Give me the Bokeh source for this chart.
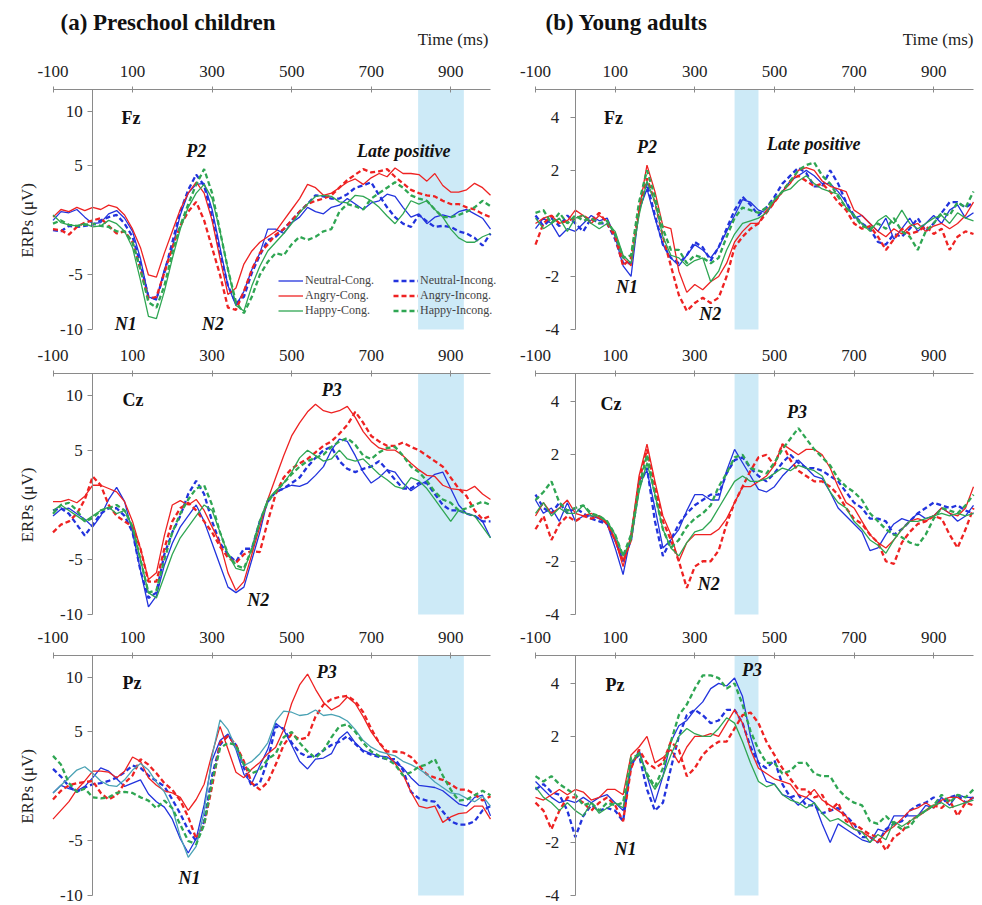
import math
from bokeh.plotting import figure
from bokeh.models import Range1d, LinearAxis, FixedTicker, BoxAnnotation, Label, Legend, LegendItem
from bokeh.layouts import row
from bokeh.embed import file_html
from bokeh.resources import INLINE

# ---------------- data ----------------
time_ms = list(range(-100, 1001, 20))
condition_names = ["Neutral-Cong.", "Neutral-Incong.", "Angry-Cong.", "Angry-Incong.", "Happy-Cong.", "Happy-Incong."]
x_ticks = [-100, 100, 300, 500, 700, 900]
y_ticks_children = [-10, -5, 5, 10]
y_ticks_adults = [-4, -2, 2, 4]
band_children = [818, 933]
band_adults = [400, 460]

# (a) Preschool children, Fz
fz_child_neutral_cong = [0, 0.8, 0.7, 1.0, 0.3, -0.3, -0.2, 0.6, 0.9, 0.2, -1.0, -3.5, -7.0, -7.3, -4.5, -2.5, 0.5, 2.5, 3.3, 3.4, 1.0, -2.5, -6.0, -7.8, -6.5, -4.5, -3.0, -0.8, -0.8, -1.2, -0.2, 0.3, 1.2, 0.8, 0.6, 1.2, 1.4, 2.0, 1.5, 1.0, 1.6, 1.8, 2.4, 2.2, 1.2, 0.3, 0.6, -0.3, 0.3, 0.5, 0.3, 0.8, 1.0, 0.6, 0.2, -0.8]
fz_child_neutral_incong = [-0.9, -1.0, -0.5, -0.6, -0.5, -0.4, 0.0, 0.3, 0.5, -0.3, -1.5, -4.0, -7.0, -7.2, -4.8, -2.0, 0.8, 2.8, 4.2, 3.2, 0.3, -3.0, -6.0, -7.6, -7.0, -4.8, -3.2, -1.8, -1.5, -0.8, 0.0, 0.8, 1.5, 2.3, 2.2, 2.0, 2.0, 2.4, 3.0, 3.2, 3.5, 2.3, 1.2, 0.3, -0.3, -0.6, 0.5, -0.1, -0.6, -0.5, -0.6, -1.0, -1.2, -1.6, -2.3, -1.2]
fz_child_angry_cong = [0.3, 1.0, 0.8, 1.2, 0.9, 1.2, 1.0, 1.4, 1.2, 0.5, -0.8, -2.5, -5.0, -5.2, -3.0, -1.0, 1.0, 2.5, 3.5, 2.5, 0.0, -3.5, -6.8, -6.2, -4.0, -2.8, -2.0, -1.5, -1.0, 0.0, 1.0, 2.0, 3.3, 3.0, 2.3, 2.5, 3.0, 3.5, 3.8, 3.3, 3.9, 4.3, 4.0, 4.8, 4.3, 4.3, 4.2, 3.6, 4.3, 3.2, 2.6, 2.6, 2.8, 3.4, 3.0, 2.3]
fz_child_angry_incong = [-0.8, -0.9, -1.3, -0.6, -0.2, 0.0, 0.2, -0.5, -1.2, -1.0, -2.0, -4.5, -7.2, -7.0, -4.8, -2.5, -0.5, 0.8, 1.7, 0.0, -2.5, -5.0, -8.0, -8.2, -6.5, -4.5, -3.0, -2.2, -1.3, -0.8, 0.0, 0.8, 1.5, 1.8, 2.0, 2.3, 3.0, 3.7, 4.2, 4.7, 4.4, 4.5, 4.7, 4.0, 3.4, 2.8, 2.5, 2.3, 2.2, 1.8, 1.5, 1.5, 1.2, 1.0, 0.6, 0.3]
fz_child_happy_cong = [0.5, -0.2, -0.4, -0.5, -0.3, -0.6, -0.5, 0.0, -0.3, -1.0, -2.5, -5.5, -8.8, -9.0, -6.5, -3.5, -0.8, 1.2, 2.5, 3.3, 2.0, -1.0, -4.5, -7.8, -8.3, -6.0, -4.2, -2.8, -2.0, -1.2, -0.3, 0.7, 1.5, 2.2, 2.3, 2.2, 1.7, 1.6, 2.3, 2.2, 1.8, 1.2, 0.4, -0.3, 0.6, 1.8, 1.5, 1.8, 1.0, 0.3, -0.8, -1.6, -2.0, -2.0, -1.5, -1.2]
fz_child_happy_incong = [-0.3, 0.0, -0.4, -0.5, -0.4, -0.3, -0.5, -0.6, -1.0, -1.0, -2.0, -4.5, -7.5, -8.0, -6.0, -3.0, -0.5, 1.5, 3.3, 4.7, 2.5, -1.0, -4.5, -7.5, -8.5, -7.0, -5.0, -3.8, -3.0, -3.2, -2.2, -1.5, -1.8, -1.5, -1.0, -0.8, 0.8, 1.5, 1.3, 1.0, 2.0, 2.5, 3.0, 3.5, 3.0, 2.3, 2.0, 1.8, 1.0, 0.3, 0.3, 0.5, 0.8, 1.2, 1.8, 1.3]

# (a) Preschool children, Cz
cz_child_neutral_cong = [-1.0, -0.4, -0.3, -0.8, -1.3, -2.0, -1.0, 0.5, 1.6, 0.3, -2.5, -6.0, -9.3, -8.3, -5.5, -3.5, -2.0, -1.0, 0.0, -1.5, -3.5, -5.5, -7.5, -8.0, -7.5, -5.0, -2.5, 0.5, 1.1, 1.5, 1.8, 1.7, 2.0, 2.7, 3.5, 5.0, 6.0, 5.8, 4.5, 3.0, 2.0, 2.5, 3.2, 3.0, 2.0, 1.3, 1.8, 2.2, 2.8, 3.0, 1.5, 0.0, -0.8, -1.0, -1.5, -3.0]
cz_child_neutral_incong = [-0.5, -0.3, -0.8, -1.8, -2.8, -1.8, -0.8, -0.3, -0.3, -1.0, -2.5, -6.0, -8.5, -8.0, -4.5, -2.5, -1.0, 1.0, 2.2, 1.0, -1.5, -3.5, -4.5, -5.2, -4.0, -4.0, -1.5, 0.3, 1.2, 1.5, 2.0, 2.5, 3.5, 4.3, 5.0, 5.3, 4.0, 3.3, 3.0, 3.3, 3.5, 4.0, 3.2, 2.3, 1.5, 1.5, 2.0, 2.0, 1.0, 0.0, -0.5, -0.5, -0.8, -1.0, -1.5, -1.5]
cz_child_angry_cong = [0.3, 0.3, 0.5, 0.2, 0.8, 1.8, 1.8, 1.5, 1.2, 0.3, -1.5, -4.0, -6.8, -6.2, -2.8, 0.0, 0.4, 0.0, 0.5, -0.5, -2.0, -3.5, -6.2, -7.8, -7.0, -4.5, -2.0, 0.5, 2.5, 4.5, 6.3, 7.5, 8.5, 9.2, 8.6, 8.4, 8.6, 9.0, 8.0, 6.7, 5.8, 5.2, 5.0, 5.0, 4.5, 3.8, 3.2, 2.7, 2.6, 1.8, 1.5, 1.4, 1.3, 1.7, 1.0, 0.5]
cz_child_angry_incong = [-2.5, -1.8, -1.5, -0.8, 0.5, 2.6, 1.8, 0.0, -1.0, -1.5, -2.0, -4.0, -7.0, -7.0, -4.0, -1.5, -0.3, 0.2, -0.5, -1.5, -2.5, -3.8, -4.8, -5.3, -4.5, -4.2, -4.3, -1.5, 1.0, 2.5, 3.3, 3.8, 4.2, 4.8, 5.4, 5.8, 6.5, 7.3, 8.5, 7.5, 6.3, 5.8, 5.4, 5.4, 5.7, 5.3, 5.0, 4.5, 4.0, 3.5, 2.5, 1.5, 0.8, -0.5, -1.3, -1.0]
cz_child_happy_cong = [-0.5, 0.0, -0.5, -1.0, -1.5, -1.0, -0.5, -0.2, -0.8, -0.5, -2.0, -5.0, -8.0, -8.5, -6.5, -4.5, -3.0, -2.0, -1.0, 0.0, -0.5, -2.5, -4.5, -5.8, -6.0, -4.0, -1.5, 0.5, 1.3, 2.0, 3.0, 4.3, 5.0, 4.5, 4.0, 4.2, 5.0, 4.2, 4.0, 4.2, 3.5, 2.8, 2.3, 1.7, 1.5, 2.5, 2.2, 1.5, 0.5, -0.5, -1.5, -0.5, -0.8, -1.0, -2.0, -3.0]
cz_child_happy_incong = [-0.8, 0.0, 0.2, -0.5, -1.5, -1.2, -0.5, -0.3, 0.0, -0.5, -2.0, -5.0, -8.0, -7.8, -5.0, -2.5, -0.8, 0.5, 1.5, 1.8, 0.0, -2.5, -4.5, -5.5, -5.8, -4.0, -1.5, 0.3, 1.2, 2.0, 2.8, 3.5, 4.0, 4.3, 4.6, 5.3, 5.8, 6.1, 5.5, 4.5, 4.2, 4.8, 5.2, 5.3, 4.5, 3.5, 3.0, 2.2, 1.2, 0.5, 0.2, -0.5, -0.3, 0.0, 0.3, 0.0]

# (a) Preschool children, Pz
pz_child_neutral_cong = [-0.6, 0.1, -0.2, -0.4, 0.0, 0.8, 1.7, 1.4, 0.7, 0.0, 0.3, 0.6, -0.7, -1.4, -1.9, -3.0, -4.8, -6.1, -4.8, -1.7, 2.4, 4.2, 4.8, 3.4, 1.1, 0.3, 1.9, 3.4, 5.8, 5.2, 3.8, 2.3, 1.6, 2.5, 2.6, 3.0, 4.4, 5.0, 4.0, 3.3, 3.0, 2.8, 2.7, 2.2, 1.7, 0.8, 0.1, 0.0, -0.1, -0.4, -1.0, -1.6, -1.8, -1.0, -0.8, -2.7]
pz_child_neutral_incong = [1.6, 0.9, 0.0, -0.5, -0.1, 0.2, 0.3, 0.5, 0.8, 1.3, 1.9, 1.7, 1.0, 0.5, 0.0, -1.2, -2.5, -4.0, -5.0, -3.2, 1.0, 3.8, 4.7, 3.8, 1.7, 0.0, 0.3, 2.4, 5.5, 5.3, 4.0, 3.1, 2.7, 2.8, 3.3, 3.8, 4.1, 4.6, 3.9, 3.2, 2.9, 2.7, 2.5, 2.5, 1.5, -0.5, -1.1, -1.3, -1.4, -2.3, -3.2, -3.5, -3.5, -3.2, -2.2, -1.8]
pz_child_angry_cong = [-3.0, -2.2, -1.4, -0.3, 0.5, 1.4, 1.4, 1.3, 0.8, 1.4, 2.7, 2.3, 0.8, 0.1, -0.4, -0.6, -1.0, -2.2, -1.2, 0.2, 3.0, 5.5, 3.4, 1.3, 0.8, 1.6, 2.2, 3.0, 3.6, 5.2, 7.6, 9.3, 10.3, 8.9, 7.7, 7.0, 7.4, 8.2, 7.6, 6.4, 5.0, 4.0, 3.0, 2.1, 1.1, -0.5, -1.8, -2.0, -1.8, -3.3, -2.8, -2.5, -2.4, -1.8, -1.8, -3.0]
pz_child_angry_incong = [-1.2, -0.4, 0.1, 0.3, 0.4, 0.5, -0.6, -1.2, -0.8, 0.3, 1.0, 2.5, 2.0, 1.2, 0.3, -0.3, -1.3, -2.8, -4.8, -3.5, 0.0, 4.0, 4.6, 3.8, 2.3, 0.3, -0.3, 0.4, 2.0, 3.8, 4.8, 4.3, 4.5, 6.4, 7.5, 8.0, 8.2, 8.3, 7.8, 6.8, 5.3, 4.0, 3.2, 3.2, 3.1, 2.7, 1.9, 1.1, 0.8, 0.6, 0.2, -0.3, -0.3, -0.7, -1.3, -0.9]
pz_child_happy_cong = [-0.6, 0.1, 0.8, 1.5, 1.8, 1.2, 0.5, 0.1, 0.0, 0.6, 1.5, 2.1, 1.5, 0.4, -0.5, -2.0, -4.6, -6.5, -5.5, -2.3, 2.8, 6.1, 5.2, 3.5, 1.9, 2.3, 3.0, 4.0, 6.0, 6.9, 6.8, 6.5, 6.6, 7.0, 6.5, 6.6, 6.4, 6.0, 5.2, 4.2, 3.6, 3.2, 3.0, 2.8, 2.3, 2.0, 1.6, 1.1, 0.4, -0.1, -0.6, -0.7, -1.1, -1.4, -0.9, -1.8]
pz_child_happy_incong = [2.8, 2.0, 0.3, -0.5, -0.2, -1.0, -1.1, -1.0, -0.6, -0.5, -0.6, -1.0, -1.3, -2.0, -1.3, -2.0, -3.5, -5.0, -5.3, -3.5, 0.5, 3.5, 4.0, 3.8, 2.0, 1.2, 1.5, 2.5, 3.0, 4.5, 5.0, 4.0, 3.2, 2.6, 3.3, 4.5, 5.5, 5.7, 5.0, 4.0, 3.2, 2.8, 2.5, 2.0, 1.0, 1.3, 1.8, 2.0, 2.5, 1.0, -0.3, -1.3, -1.2, -0.8, -0.4, -0.8]

# (b) Young adults, Fz
fz_adult_neutral_cong = [-0.2, 0.2, 0.0, -0.5, -0.2, -0.3, 0.0, 0.3, 0.1, 0.2, -0.5, -1.6, -2.0, 0.5, 1.3, 0.2, -0.8, -1.3, -1.6, -1.2, -0.8, -1.0, -1.3, -0.9, -0.3, 0.3, 0.9, 0.8, 0.5, 0.4, 0.8, 1.2, 1.6, 1.8, 2.0, 1.8, 1.5, 1.5, 1.2, 0.8, 0.2, 0.3, 0.0, -0.3, 0.2, -0.6, -0.2, 0.2, -0.3, 0.0, 0.3, 0.0, 0.5, 0.7, 0.2, 0.4]
fz_adult_neutral_incong = [0.3, -0.1, 0.2, -0.1, 0.3, 0.0, -0.3, 0.2, 0.0, 0.0, -0.6, -1.5, -1.5, 0.5, 1.5, 0.3, -0.8, -1.3, -1.5, -1.2, -0.7, -0.9, -1.4, -0.9, -0.2, 0.5, 1.0, 0.7, 0.3, 0.6, 1.0, 1.5, 1.8, 2.1, 1.9, 1.4, 1.4, 2.0, 1.5, 0.8, 0.3, 0.0, -0.2, -0.7, -0.8, -0.4, -0.5, -0.2, 0.2, -0.3, 0.0, 0.4, 0.8, 0.8, 0.6, 0.8]
fz_adult_angry_cong = [0.0, 0.2, 0.3, 0.0, 0.1, 0.5, 0.3, 0.0, 0.3, 0.1, -0.4, -1.3, -1.6, 0.5, 2.2, 1.2, -0.1, -0.2, -1.8, -2.6, -2.3, -2.5, -2.2, -2.0, -1.5, -0.7, -0.3, 0.0, 0.0, 0.5, 0.8, 1.2, 1.5, 2.0, 2.1, 2.0, 1.6, 1.4, 1.3, 1.2, 0.5, 0.3, 0.0, -0.3, -0.5, -0.2, -0.4, -0.1, 0.0, -0.3, -0.1, 0.0, -0.2, 0.0, 0.3, 0.8]
fz_adult_angry_incong = [-0.8, 0.0, 0.3, 0.0, 0.1, 0.2, 0.3, 0.1, 0.4, 0.0, -0.5, -1.6, -1.3, 0.5, 1.7, 0.8, -0.5, -1.6, -2.7, -3.3, -3.0, -2.8, -3.0, -2.8, -2.0, -0.9, -0.5, -0.2, 0.0, 0.4, 0.8, 1.2, 1.6, 1.8, 1.6, 1.4, 1.5, 1.2, 0.8, 0.5, 0.0, -0.2, -0.1, -0.5, -1.0, -0.6, -0.2, -0.4, -0.3, -0.1, -0.4, -0.2, -1.0, -0.5, -0.3, -0.4]
fz_adult_happy_cong = [0.2, -0.2, 0.0, 0.2, -0.3, 0.2, 0.3, 0.0, -0.2, 0.0, -0.3, -1.2, -1.5, 0.3, 1.6, 0.8, -0.5, -1.2, -1.3, -1.6, -1.4, -1.3, -2.2, -1.8, -1.0, -0.4, 0.0, 0.1, 0.2, 0.4, 0.9, 1.2, 1.3, 1.6, 1.8, 1.5, 1.3, 1.2, 1.1, 0.6, 0.3, 0.0, -0.3, 0.1, 0.3, 0.0, 0.5, 0.0, -0.2, 0.0, 0.2, 0.3, 0.0, 0.4, 0.2, 0.1]
fz_adult_happy_incong = [0.4, 0.5, 0.0, 0.4, 0.0, 0.3, 0.1, 0.2, 0.0, 0.1, -0.4, -1.3, -1.2, 0.8, 2.0, 1.0, -0.2, -1.0, -1.0, -1.5, -1.2, -1.3, -1.5, -1.3, -0.5, 0.2, 0.6, 0.5, 0.4, 0.6, 0.9, 1.2, 1.6, 2.0, 2.2, 2.3, 1.8, 1.5, 1.0, 0.6, 0.3, -0.1, -0.2, 0.0, -0.2, 0.2, -0.3, -0.5, -1.0, -0.3, 0.0, 0.4, 0.3, 0.8, 0.6, 1.2]

# (b) Young adults, Cz
cz_adult_neutral_cong = [0.3, -0.2, 0.0, -0.5, 0.2, -0.5, -0.3, -0.3, -0.4, -0.6, -1.5, -2.5, -1.0, 1.0, 1.4, 0.0, -1.5, -1.2, -0.8, -0.1, 0.5, 0.5, 0.3, 0.3, 1.4, 2.2, 1.7, 1.2, 0.7, 0.6, 0.8, 1.2, 1.5, 1.8, 1.5, 1.2, 1.1, 0.6, 0.0, -0.3, -0.6, -0.9, -1.6, -1.5, -1.0, -0.6, -0.4, -0.5, -0.2, -0.4, -0.3, 0.0, -0.2, -0.5, -0.3, 0.1]
cz_adult_neutral_incong = [0.5, 0.0, -0.2, 0.2, -0.2, 0.0, -0.2, -0.4, -0.5, -0.6, -1.2, -2.0, -1.2, 0.8, 1.5, -0.5, -1.8, -1.2, -0.6, -0.2, 0.1, 0.3, 0.5, 0.5, 1.3, 1.8, 1.9, 1.5, 1.2, 1.0, 1.3, 1.7, 2.0, 1.7, 1.5, 1.5, 1.4, 1.2, 1.0, 0.6, 0.2, 0.0, -0.4, -0.4, -0.5, -1.0, -0.8, -0.5, -0.2, 0.0, 0.2, 0.1, 0.0, 0.1, -0.1, -0.2]
cz_adult_angry_cong = [-0.3, 0.2, -0.2, 0.0, 0.3, -0.2, -0.3, -0.2, -0.4, -0.5, -1.2, -2.2, -1.0, 1.2, 2.4, 1.0, -0.3, -1.0, -2.0, -1.3, -1.0, -1.0, -1.0, -0.8, -0.4, 0.2, 0.8, 0.8, 1.0, 1.2, 1.6, 2.4, 2.2, 2.0, 2.2, 2.2, 2.0, 1.5, 0.8, 0.2, 0.0, -0.5, -1.0, -1.3, -1.5, -1.2, -0.8, -0.5, -0.4, -0.5, -0.3, 0.0, -0.2, -0.3, 0.0, 0.8]
cz_adult_angry_incong = [-0.8, -0.3, -1.2, -0.6, -0.3, -0.5, -0.3, -0.4, -0.3, -0.6, -1.2, -2.0, -1.2, 1.0, 2.2, 0.8, -0.5, -1.2, -2.0, -3.0, -2.2, -2.0, -2.0, -1.6, -0.6, 0.2, 0.8, 1.4, 1.9, 2.0, 1.6, 2.4, 1.8, 1.4, 1.2, 1.0, 1.0, 0.8, 0.5, 0.0, -0.4, -0.6, -1.0, -1.3, -2.0, -2.1, -1.3, -0.9, -0.6, -0.5, -0.3, -0.4, -1.0, -1.5, -0.8, 0.0]
cz_adult_happy_cong = [-0.2, 0.2, -0.3, 0.0, -0.2, -0.2, 0.1, -0.3, -0.3, -0.5, -1.0, -1.8, -1.2, 0.6, 1.7, 0.5, -0.8, -1.5, -1.8, -1.3, -0.9, -0.8, -0.5, 0.0, 0.5, 1.0, 1.2, 1.0, 1.0, 1.1, 1.3, 1.5, 1.4, 1.6, 1.5, 1.4, 1.2, 0.6, 0.2, 0.0, -0.5, -0.8, -1.2, -1.4, -1.7, -1.2, -0.8, -0.5, -0.5, -0.4, -0.3, -0.2, -0.3, -0.2, -0.3, -0.2]
cz_adult_happy_incong = [0.3, 0.6, 1.0, 0.2, -0.1, 0.0, 0.1, -0.2, -0.3, -0.5, -1.0, -1.8, -1.0, 0.8, 2.0, 0.5, -0.8, -1.5, -1.2, -0.7, -0.4, -0.2, 0.1, 0.8, 1.3, 1.9, 2.0, 1.5, 1.4, 1.3, 1.7, 2.2, 2.6, 3.0, 2.6, 2.2, 1.9, 1.6, 1.1, 0.8, 0.6, 0.3, -0.2, -0.5, -0.8, -1.0, -1.1, -1.3, -1.4, -1.0, -0.4, 0.0, -0.1, -0.2, 0.1, 0.5]

# (b) Young adults, Pz
pz_adult_neutral_cong = [0.3, 0.0, -0.3, -0.5, -0.4, -0.5, -0.3, -0.5, -0.3, -0.2, -0.5, -0.8, 0.8, 1.5, 0.5, -0.5, 0.5, 1.8, 2.4, 2.6, 3.0, 3.3, 3.8, 4.0, 3.9, 4.2, 3.5, 2.0, 1.0, 0.3, 0.2, -0.2, -0.3, -0.6, -0.3, -0.5, -1.3, -2.0, -1.3, -1.5, -1.7, -1.9, -2.0, -1.5, -1.6, -1.0, -1.0, -1.0, -1.0, -0.6, -0.7, -0.3, -0.6, -0.2, -0.3, -0.3]
pz_adult_neutral_incong = [0.0, 0.2, -0.1, -0.2, -0.8, -1.8, -1.0, -0.6, -0.8, -0.7, -0.8, -1.2, 1.0, 1.3, 0.0, -0.8, -0.5, 0.8, 2.0, 2.8, 3.0, 2.8, 2.5, 2.6, 3.0, 3.0, 2.5, 1.6, 1.0, 0.8, 1.1, 0.2, -0.3, -0.2, -0.6, -0.6, -0.9, -0.8, -0.7, -1.0, -1.3, -1.8, -1.8, -2.0, -1.5, -1.3, -1.2, -0.8, -0.6, -0.5, -0.3, -0.5, -0.3, -0.2, -0.5, -0.3]
pz_adult_angry_cong = [-0.3, -0.4, -0.2, 0.0, -0.2, 0.0, -0.1, -0.4, -0.3, 0.0, 0.0, -0.2, 1.3, 1.6, 2.0, 1.0, 1.2, 1.5, 1.0, 1.6, 2.0, 2.0, 2.1, 2.0, 2.5, 3.0, 2.5, 1.5, 0.8, 0.6, 0.4, 0.3, 0.2, -0.2, -0.3, 0.0, -0.4, -0.6, -0.8, -1.0, -1.5, -1.6, -1.8, -2.0, -1.6, -1.4, -1.1, -0.8, -0.7, -0.5, -0.7, -0.4, -0.3, -0.3, -0.5, -0.3]
pz_adult_angry_incong = [-0.5, -0.8, -1.5, -0.8, -0.3, -0.3, -0.5, -0.8, -0.5, -0.3, -0.6, -1.2, 0.8, 1.5, 1.0, 0.8, 1.0, 1.8, 1.5, 0.5, 0.8, 1.3, 1.6, 1.8, 1.8, 2.3, 2.8, 2.9, 2.5, 1.8, 1.3, 0.8, 0.4, 0.0, 0.0, -0.3, -0.2, -0.8, -0.5, -1.2, -1.3, -1.5, -1.7, -1.8, -2.3, -1.8, -1.6, -1.2, -1.0, -0.8, -0.6, -0.7, -0.4, -1.0, -0.5, -0.6]
pz_adult_happy_cong = [0.1, -0.3, -0.5, -0.8, -0.5, -0.8, -1.0, -0.5, -0.9, -0.7, -0.5, -0.7, 1.0, 1.4, 0.5, 0.0, 0.5, 1.3, 2.0, 2.3, 2.1, 2.0, 2.0, 2.3, 2.7, 2.5, 1.8, 1.0, 0.3, 0.1, 0.2, -0.2, -0.4, -0.5, -0.7, -0.5, -0.9, -1.2, -1.1, -1.3, -1.5, -1.6, -2.0, -1.7, -1.9, -1.2, -1.4, -1.2, -1.0, -0.8, -0.6, -0.5, -0.7, -0.6, -0.5, -0.4]
pz_adult_happy_incong = [0.5, 0.3, 0.5, 0.2, 0.0, -0.2, -0.6, -0.5, -0.8, -0.5, -0.6, -0.5, 1.2, 1.3, 0.6, 0.1, 0.8, 1.8, 2.8, 3.2, 3.8, 4.3, 4.3, 4.2, 3.8, 4.0, 3.2, 2.2, 1.5, 1.0, 1.0, 0.6, 0.7, 1.0, 1.0, 0.6, 0.5, 0.5, 0.0, -0.3, -0.5, -0.6, -1.2, -1.3, -1.0, -1.3, -1.5, -1.4, -1.0, -0.8, -0.6, -0.2, -0.5, -0.2, -0.3, 0.0]

# ---------------- style / geometry ----------------
FONT = "Liberation Serif"
BLUE = "#2233dd"
RED = "#ee2222"
GREEN = "#2fa653"
TEAL = "#4aa2b4"
BAND = "#cdeaf7"
AXIS = "#8a8a8a"
TXT = "#222222"
INK = "#111111"

H = 904                                    # canvas height (px)
ROWS = [(815, 575), (531, 290), (249, 9)]  # (top, bottom) of each panel, px from canvas bottom


def build_column(width, frame_left, frame_right, panels, ystandoff, title, title_dx, time_dx, with_ylabel):
    k = 1100.0 / (frame_right - frame_left)           # ms per pixel
    x_lo = -100 - frame_left * k
    x_hi = 1000 + (width - frame_right) * k
    p = figure(width=width, height=H, title=None,
               x_range=Range1d(x_lo, x_hi), y_range=Range1d(0, H),
               output_backend="svg", toolbar_location=None,
               x_axis_location=None, y_axis_location=None,
               min_border_left=0, min_border_right=0, min_border_top=0, min_border_bottom=0,
               background_fill_color="white", border_fill_color="white",
               outline_line_color=None)
    p.grid.visible = False
    extra = {}
    first_renderers = None
    for pi, (series, colors, lo, hi, yticks, band, elec, elec_xy, peaks) in enumerate(panels):
        top, bottom = ROWS[pi]
        name = "panel%d" % pi
        ky = (hi - lo) / float(top - bottom)
        extra[name] = Range1d(lo - bottom * ky, hi + (H - top) * ky)
    p.extra_y_ranges = extra

    for pi, (series, colors, lo, hi, yticks, band, elec, elec_xy, peaks) in enumerate(panels):
        top, bottom = ROWS[pi]
        name = "panel%d" % pi
        p.add_layout(BoxAnnotation(left=band[0], right=band[1], bottom=lo, top=hi,
                                   y_range_name=name, fill_color=BAND, fill_alpha=1.0,
                                   line_alpha=0, level="underlay"))

        xax = LinearAxis(fixed_location=top, bounds=(-100, 1000),
                         ticker=FixedTicker(ticks=x_ticks),
                         major_label_overrides={t: str(t) for t in x_ticks})
        xax.axis_line_color = AXIS
        xax.major_tick_line_color = AXIS
        xax.minor_tick_line_color = None
        xax.major_tick_in = 3
        xax.major_tick_out = 3
        xax.major_label_standoff = 10
        xax.major_label_text_font = FONT
        xax.major_label_text_font_size = "17px"
        xax.major_label_text_color = TXT
        p.add_layout(xax, "above")

        yax = LinearAxis(y_range_name=name, fixed_location=0, bounds=(lo, hi),
                         ticker=FixedTicker(ticks=yticks),
                         major_label_overrides={t: str(t) for t in yticks})
        yax.axis_line_color = AXIS
        yax.major_tick_line_color = AXIS
        yax.minor_tick_line_color = None
        yax.major_tick_in = 0
        yax.major_tick_out = 5
        yax.major_label_standoff = ystandoff
        yax.major_label_text_font = FONT
        yax.major_label_text_font_size = "17px"
        yax.major_label_text_color = TXT
        p.add_layout(yax, "left")

        rends = []
        for i, vals in enumerate(series):
            dashed = (i % 2 == 1)
            r = p.line(time_ms, vals, y_range_name=name, line_color=colors[i],
                       line_width=2.3 if dashed else 1.3,
                       line_dash="5 3" if dashed else "solid")
            rends.append(r)
        if first_renderers is None:
            first_renderers = rends

        p.add_layout(Label(x=elec_xy[0], y=elec_xy[1], y_range_name=name, text=elec,
                           text_font=FONT, text_font_style="bold", text_font_size="18px",
                           text_color=INK, text_align="left", text_baseline="middle"))
        for txt, px, py in peaks:
            p.add_layout(Label(x=px, y=py, y_range_name=name, text=txt, text_font=FONT,
                               text_font_style="bold italic", text_font_size="18px",
                               text_color=INK, text_align="center", text_baseline="middle"))
        if with_ylabel:
            p.add_layout(Label(x=-100, y=0, x_offset=-26, y_range_name=name,
                               text="ERPs (\u03bcV)", angle=math.pi / 2,
                               text_font=FONT, text_font_size="17px", text_color=TXT,
                               text_align="center", text_baseline="middle"))

    p.add_layout(Label(x=-100, y=H - 22, x_offset=title_dx, text=title,
                       text_font=FONT, text_font_style="bold", text_font_size="23px",
                       text_color=INK, text_align="left", text_baseline="middle"))
    p.add_layout(Label(x=1000, y=H - 39, x_offset=time_dx, text="Time (ms)",
                       text_font=FONT, text_font_size="17px", text_color=TXT,
                       text_align="right", text_baseline="middle"))
    return p, first_renderers


col6 = [BLUE, BLUE, RED, RED, GREEN, GREEN]
col6_pz_child = [BLUE, BLUE, RED, RED, TEAL, GREEN]

left_panels = [
    ([fz_child_neutral_cong, fz_child_neutral_incong, fz_child_angry_cong,
      fz_child_angry_incong, fz_child_happy_cong, fz_child_happy_incong],
     col6, -10, 12, y_ticks_children, band_children, "Fz", (72, 9.4),
     [("P2", 260, 6.4), ("Late positive", 782, 6.4), ("N1", 83, -9.5), ("N2", 302, -9.5)]),
    ([cz_child_neutral_cong, cz_child_neutral_incong, cz_child_angry_cong,
      cz_child_angry_incong, cz_child_happy_cong, cz_child_happy_incong],
     col6, -10, 12, y_ticks_children, band_children, "Cz", (75, 9.6),
     [("P3", 601, 10.5), ("N2", 416, -8.7)]),
    ([pz_child_neutral_cong, pz_child_neutral_incong, pz_child_angry_cong,
      pz_child_angry_incong, pz_child_happy_cong, pz_child_happy_incong],
     col6_pz_child, -10, 12, y_ticks_children, band_children, "Pz", (75, 9.5),
     [("P3", 588, 10.5), ("N1", 243, -8.35)]),
]
right_panels = [
    ([fz_adult_neutral_cong, fz_adult_neutral_incong, fz_adult_angry_cong,
      fz_adult_angry_incong, fz_adult_happy_cong, fz_adult_happy_incong],
     col6, -4, 5.05, y_ticks_adults, band_adults, "Fz", (72, 3.96),
     [("P2", 180, 2.9), ("Late positive", 599, 3.0), ("N1", 130, -2.4), ("N2", 339, -3.4)]),
    ([cz_adult_neutral_cong, cz_adult_neutral_incong, cz_adult_angry_cong,
      cz_adult_angry_incong, cz_adult_happy_cong, cz_adult_happy_incong],
     col6, -4, 5.05, y_ticks_adults, band_adults, "Cz", (63, 3.9),
     [("P3", 557, 3.6), ("N2", 335, -2.85)]),
    ([pz_adult_neutral_cong, pz_adult_neutral_incong, pz_adult_angry_cong,
      pz_adult_angry_incong, pz_adult_happy_cong, pz_adult_happy_incong],
     col6, -4, 5.05, y_ticks_adults, band_adults, "Pz", (76, 3.94),
     [("P3", 444, 4.5), ("N1", 126, -2.25)]),
]

pl, legend_rends = build_column(500, 52.5, 490, left_panels, 5, "(a) Preschool children", 7.5, -2, True)
pr, _ = build_column(482, 35, 473, right_panels, 11, "(b) Young adults", 10, 0, False)

# legend (two columns) inside the children's Fz panel; location = bottom-left in canvas px
for idxs, lx in (([0, 2, 4], 278), ([1, 3, 5], 393)):
    lg = Legend(items=[LegendItem(label=condition_names[i], renderers=[legend_rends[i]]) for i in idxs],
                location=(lx, 586), orientation="vertical",
                glyph_width=25, glyph_height=13, label_height=13, label_standoff=2,
                spacing=0, padding=0, margin=0,
                label_text_font=FONT, label_text_font_size="12px", label_text_color="#444444",
                border_line_color=None, background_fill_alpha=0)
    pl.add_layout(lg)

layout = row(pl, pr)
open("out.html", "w").write(file_html(layout, INLINE))
